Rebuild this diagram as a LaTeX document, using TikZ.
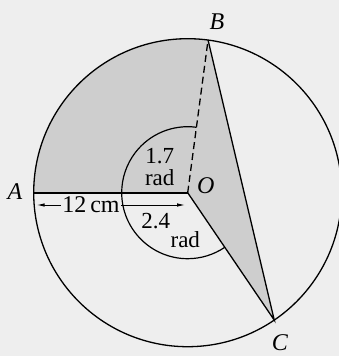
\documentclass[tikz,border=0pt]{standalone}
\usepackage{fontspec}
\setmainfont{Liberation Serif}
\usepackage{xcolor}
\usepackage{tikz}
\usetikzlibrary{arrows.meta, calc}

\definecolor{paper}{HTML}{EEEEEE}
\definecolor{sectorgray}{HTML}{CECECE}

\begin{document}
\begin{tikzpicture}[
    x=1pt, y=1pt,
    >={Latex[length=8pt,width=3.5pt]},
    rim/.style={line width=1.3pt},
    radius line/.style={line width=1.3pt},
    anglearc/.style={line width=1.2pt},
    lbl/.style={font=\fontsize{24}{24}\selectfont\itshape},
    txt/.style={font=\fontsize{23}{23}\selectfont, inner sep=0pt, anchor=base},
    dimarr/.style={<->, line width=0.9pt},
]

% === Background and margins ===
\fill[paper] (-187.7,-163.3) rectangle (151.3,192.7);
\useasboundingbox (-187.7,-163.3) rectangle (151.3,192.7);

% === Points ===
\coordinate (O) at (0,0);
\coordinate (A) at (180:154);
\coordinate (B) at (82.4:154);
\coordinate (C) at (-55.8:154);

% === Shaded region: sector AOB and triangle OBC ===
\fill[sectorgray] (O) -- (A) arc[start angle=180, end angle=82.4, radius=154] -- (C) -- cycle;

% === 12 cm dimension ===
\coordinate (d1) at ($(A)+(3,-12.3)$);
\coordinate (d2) at ($(O)+(-2.7,-12.3)$);
\draw[dimarr] (d1) -- (d2)
    node[txt, font=\fontsize{24}{24}\selectfont, anchor=center, pos=0.366, fill=paper,
         inner xsep=1.5pt, inner ysep=1pt] (len) {12\,cm};

% === Circle and radii ===
\draw[rim] (O) circle[radius=154];
\draw[line width=1.9pt] (A) -- (O);
\draw[radius line, dashed, dash pattern=on 7pt off 4pt] (O) -- (B);
\draw[radius line] (B) -- (C) -- (O);

% === Angle arcs ===
\draw[anglearc] (82.4:66) arc[start angle=82.4, end angle=180, radius=66];
\draw[anglearc] (180:66) arc[start angle=180, end angle=304.2, radius=66];

% === Labels ===
\node[lbl] (la) at (-172.7,0.7) {A};
\node[lbl] (lb) at (29.3,170.7) {B};
\node[lbl] (lc) at (92.3,-150.3) {C};
\node[lbl, anchor=base, inner sep=0pt] (lo) at (18,-0.6) {O};
\node[txt] (ang1a) at (-28,29) {1.7};
\node[txt] (ang1b) at (-28,7) {rad};
\node[txt] (ang2a) at (-32,-35.3) {2.4};
\node[txt] (ang2b) at (-2.4,-54.3) {rad};

\end{tikzpicture}
\end{document}
